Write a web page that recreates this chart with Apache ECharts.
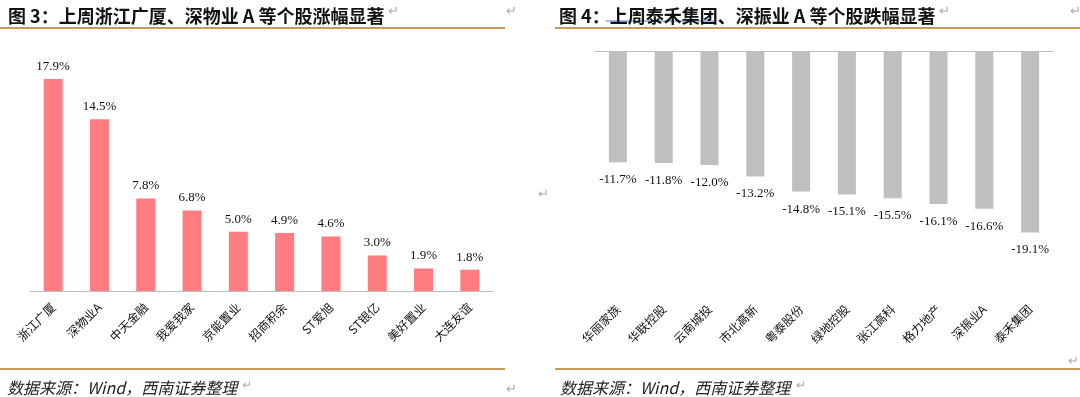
<!DOCTYPE html>
<html>
<head>
<meta charset="utf-8">
<script src="https://cdn.jsdelivr.net/npm/echarts@6/dist/echarts.min.js"></script>
<style>
  html, body { margin: 0; padding: 0; background: #fff; }
  #main { width: 1080px; height: 397px; }
</style>
</head>
<body>
<div id="main"></div>
<script>
// 图3 涨幅
var upNames = ['浙江广厦', '深物业A', '中天金融', '我爱我家', '京能置业', '招商积余', 'ST爱旭', 'ST银亿', '美好置业', '大连友谊'];
var upValues = [17.9, 14.5, 7.8, 6.8, 5.0, 4.9, 4.6, 3.0, 1.9, 1.8];
// 图4 跌幅
var downNames = ['华丽家族', '华联控股', '云南城投', '市北高新', '粤泰股份', '绿地控股', '张江高科', '格力地产', '深振业A', '泰禾集团'];
var downValues = [-11.7, -11.8, -12.0, -13.2, -14.8, -15.1, -15.5, -16.1, -16.6, -19.1];

var titleLeft = '图 3：上周浙江广厦、深物业 A 等个股涨幅显著';
var titleRight = '图 4：上周泰禾集团、深振业 A 等个股跌幅显著';
var source = '数据来源：Wind，西南证券整理';

var gold = '#C99A55';
var axisGray = '#BFBFBF';
var cjk = '"Noto Sans CJK SC", sans-serif';
var serif = '"Liberation Serif", "DejaVu Serif", serif';

function pct(p) { return p.value.toFixed(1) + '%'; }

var myChart = echarts.init(document.getElementById('main'));
myChart.setOption({
    animation: false,
    backgroundColor: '#fff',
    title: [
        {text: titleLeft, left: 3, top: 2, textStyle: {fontFamily: cjk, fontSize: 18, fontWeight: 'bold', color: '#111'}},
        {text: titleRight, left: 554, top: 2, textStyle: {fontFamily: cjk, fontSize: 18, fontWeight: 'bold', color: '#111'}},
        {text: source, left: 2, top: 375, textStyle: {fontFamily: cjk, fontSize: 16, fontStyle: 'italic', fontWeight: 'normal', color: '#222'}},
        {text: source, left: 555, top: 375, textStyle: {fontFamily: cjk, fontSize: 16, fontStyle: 'italic', fontWeight: 'normal', color: '#222'}}
    ],
    graphic: [
        {type: 'line', shape: {x1: 0, y1: 28, x2: 505, y2: 28}, style: {stroke: gold, lineWidth: 2}},
        {type: 'line', shape: {x1: 555, y1: 28, x2: 1080, y2: 28}, style: {stroke: gold, lineWidth: 2}},
        {type: 'line', shape: {x1: 0, y1: 369, x2: 505, y2: 369}, style: {stroke: gold, lineWidth: 2}},
        {type: 'line', shape: {x1: 555, y1: 369, x2: 1080, y2: 369}, style: {stroke: gold, lineWidth: 2}},
        {type: 'line', shape: {x1: 606, y1: 21, x2: 714, y2: 21}, style: {stroke: '#4A7FD8', lineWidth: 1}},
        {type: 'text', left: 388, top: 4, style: {text: '↵', fill: '#AAA', font: '13px ' + cjk}},
        {type: 'text', left: 506, top: 4, style: {text: '↵', fill: '#AAA', font: '13px ' + cjk}},
        {type: 'text', left: 939, top: 4, style: {text: '↵', fill: '#AAA', font: '13px ' + cjk}},
        {type: 'text', left: 1070, top: 4, style: {text: '↵', fill: '#AAA', font: '13px ' + cjk}},
        {type: 'text', left: 538, top: 187, style: {text: '↵', fill: '#AAA', font: '13px ' + cjk}},
        {type: 'text', left: 1068, top: 354, style: {text: '↵', fill: '#AAA', font: '13px ' + cjk}},
        {type: 'text', left: 242, top: 378, style: {text: '↵', fill: '#AAA', font: '12px ' + cjk}},
        {type: 'text', left: 796, top: 378, style: {text: '↵', fill: '#AAA', font: '12px ' + cjk}},
        {type: 'text', left: 506, top: 382, style: {text: '↵', fill: '#AAA', font: '13px ' + cjk}}
    ],
    grid: [
        {left: 30, top: 54, width: 463, height: 237},
        {left: 595, top: 51, width: 458, height: 190},
        {left: 595, top: 51, width: 458, height: 250}
    ],
    xAxis: [
        {
            type: 'category', gridIndex: 0, data: upNames,
            axisLine: {lineStyle: {color: axisGray}},
            axisTick: {length: 4, lineStyle: {color: axisGray}},
            axisLabel: {rotate: 45, interval: 0, margin: 14, fontFamily: cjk, fontSize: 12, color: '#111'}
        },
        {
            type: 'category', gridIndex: 1, data: downNames,
            axisLine: {onZero: true, lineStyle: {color: axisGray}},
            axisTick: {length: 4, lineStyle: {color: axisGray}},
            axisLabel: {show: false}
        },
        {
            type: 'category', gridIndex: 2, data: downNames,
            axisLine: {show: false}, axisTick: {show: false},
            axisLabel: {rotate: 45, interval: 0, margin: 6, fontFamily: cjk, fontSize: 12, color: '#111'}
        }
    ],
    yAxis: [
        {type: 'value', gridIndex: 0, min: 0, max: 20, show: false, splitLine: {show: false}},
        {type: 'value', gridIndex: 1, min: -20, max: 0, show: false, splitLine: {show: false}},
        {type: 'value', gridIndex: 2, min: -20, max: 0, show: false, splitLine: {show: false}}
    ],
    series: [
        {
            name: '涨幅', type: 'bar', xAxisIndex: 0, yAxisIndex: 0,
            data: upValues, barWidth: 19,
            itemStyle: {color: '#FF7C80'},
            label: {show: true, position: 'top', distance: 6, formatter: pct, fontFamily: serif, fontSize: 13, color: '#111'}
        },
        {
            name: '跌幅', type: 'bar', xAxisIndex: 1, yAxisIndex: 1,
            data: downValues, barWidth: 18,
            itemStyle: {color: '#BFBFBF'},
            label: {show: true, position: 'bottom', distance: 11, formatter: pct, fontFamily: serif, fontSize: 13, color: '#111'}
        }
    ]
});
</script>
</body>
</html>
